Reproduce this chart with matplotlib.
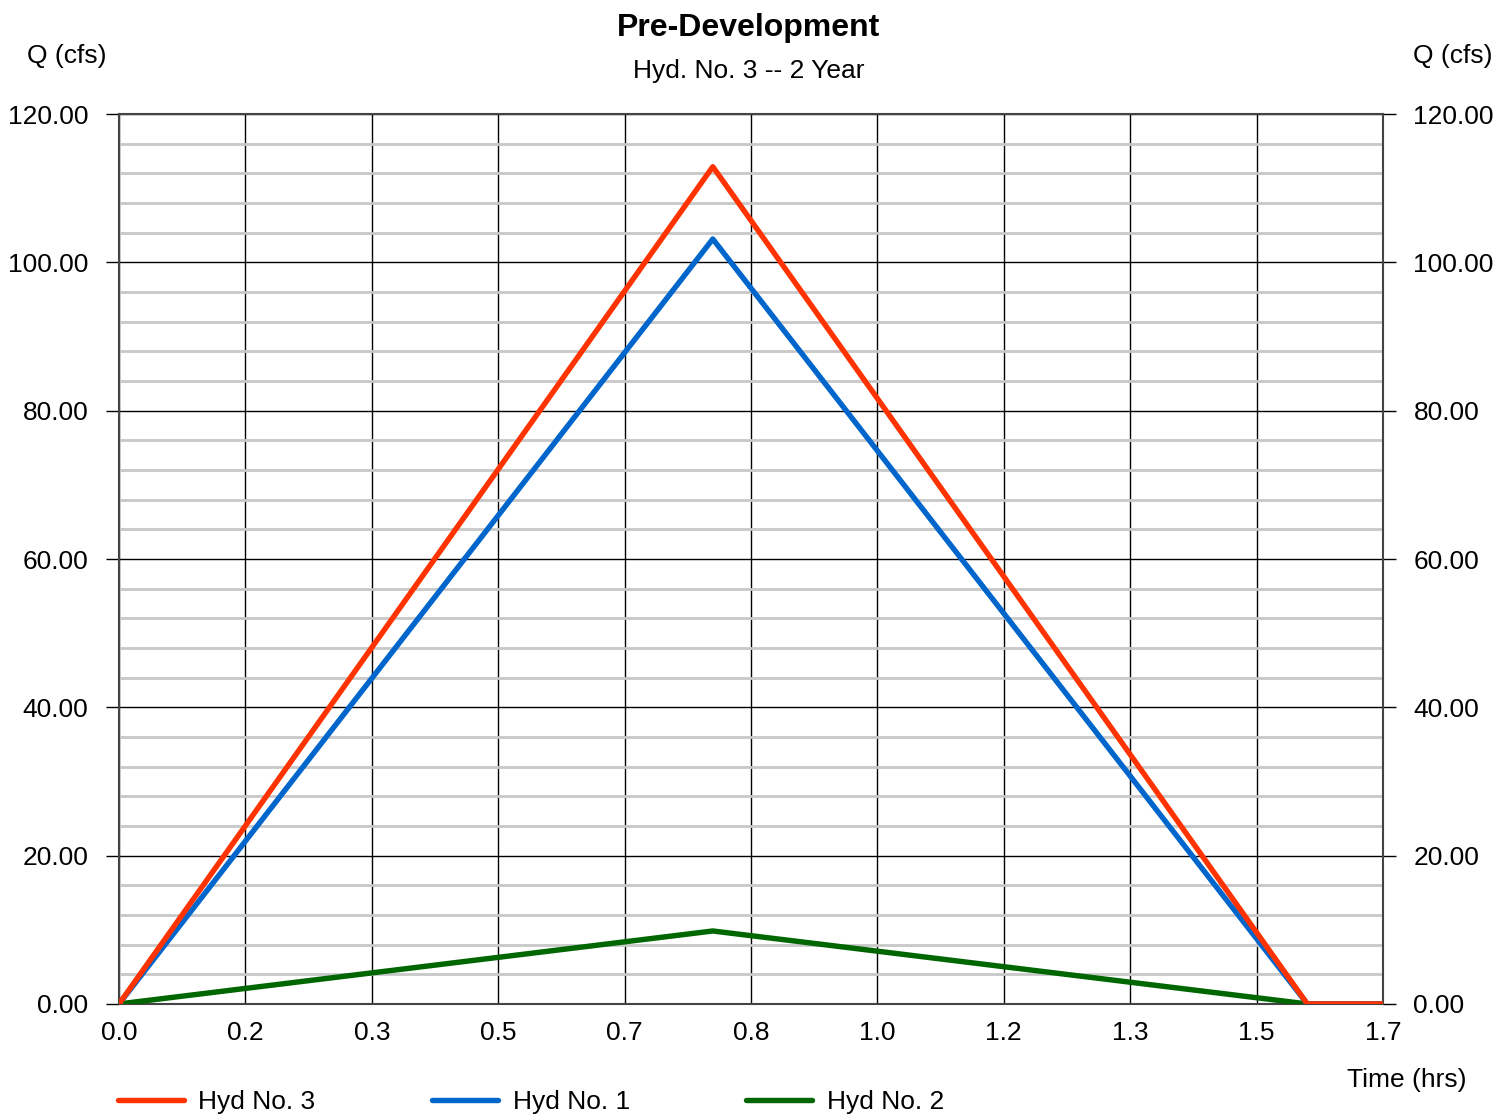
import numpy as np
import matplotlib
matplotlib.use("Agg")
import matplotlib.pyplot as plt
from matplotlib.ticker import FixedLocator, MultipleLocator, FormatStrFormatter
from matplotlib.lines import Line2D

plt.rcParams['font.family'] = ['Liberation Sans', 'DejaVu Sans']

# hydrograph points (time in hrs, flow in cfs)
t = [0.0, 0.783, 1.567, 1.667]
hyd3 = [0.0, 112.9, 0.0, 0.0]
hyd1 = [0.0, 103.15, 0.0, 0.0]
hyd2 = [0.0, 9.84, 0.0, 0.0]

names = ["Hyd No. 3", "Hyd No. 1", "Hyd No. 2"]
colors = ["#ff3300", "#0066cc", "#006600"]

xticks = [i / 6 for i in range(11)]

fig = plt.figure(figsize=(14.97, 11.16), dpi=100)
ax = fig.add_axes([0.0795, 0.1004, 0.8443, 0.7974])

ax.plot(t, hyd2, color=colors[2], lw=3.9, zorder=3, solid_capstyle='round')
ax.plot(t, hyd1, color=colors[1], lw=3.9, zorder=4, solid_capstyle='round')
ax.plot(t, hyd3, color=colors[0], lw=3.9, zorder=5, solid_capstyle='round')

ax.set_xlim(0, 10 / 6)
ax.set_ylim(0, 120)
ax.xaxis.set_major_locator(FixedLocator(xticks))
ax.xaxis.set_major_formatter(FormatStrFormatter('%.1f'))
ax.yaxis.set_major_locator(MultipleLocator(20))
ax.yaxis.set_minor_locator(MultipleLocator(4))
ax.yaxis.set_major_formatter(FormatStrFormatter('%.2f'))

ax.grid(which='minor', axis='y', color='#c8c8c8', lw=2)
ax.grid(which='major', axis='y', color='black', lw=1)
ax.grid(which='major', axis='x', color='black', lw=1)
ax.set_axisbelow(True)

ax.tick_params(axis='x', length=0, pad=12, labelsize=19)
ax.tick_params(axis='y', which='major', length=9.5, width=1, left=True, right=True,
               labelleft=True, labelright=True, pad=12.5, labelsize=19)
ax.tick_params(axis='y', which='minor', length=0)
for s in ax.spines.values():
    s.set_color('#444444')
    s.set_linewidth(1.5)

fig.text(0.5, 0.975, "Pre-Development", ha='center', va='center', fontsize=23, fontweight='bold')
fig.text(0.5, 0.936, "Hyd. No. 3 -- 2 Year", ha='center', va='center', fontsize=19)
fig.text(0.0445, 0.950, "Q (cfs)", ha='center', va='center', fontsize=19)
fig.text(0.9705, 0.950, "Q (cfs)", ha='center', va='center', fontsize=19)
fig.text(0.9398, 0.032, "Time (hrs)", ha='center', va='center', fontsize=19)

handles = [Line2D([], [], color=c, lw=3.9, solid_capstyle='round') for c in colors]
fig.legend(handles, names, loc='center left', bbox_to_anchor=(0.0788, 0.0125),
           ncol=3, frameon=False, fontsize=19, handlelength=2.5, handletextpad=0.55,
           columnspacing=4.42, borderpad=0, borderaxespad=0)

fig.savefig("out.png", dpi=100)
